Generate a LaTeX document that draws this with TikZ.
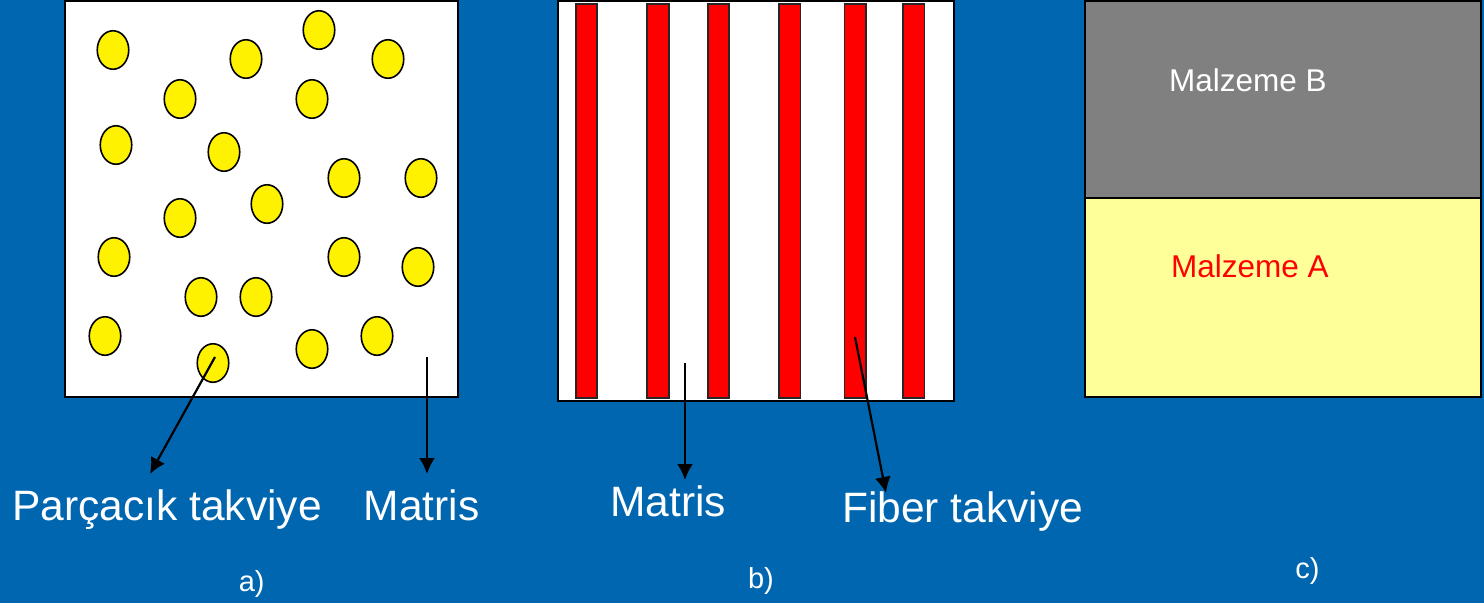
\documentclass[tikz,border=0pt]{standalone}
\usepackage{fontspec}
\setmainfont{Liberation Sans}
\usetikzlibrary{shapes.geometric,arrows.meta}
\definecolor{slideblue}{RGB}{0,102,176}
\definecolor{paleyellow}{RGB}{255,255,153}
\definecolor{matgray}{RGB}{128,128,128}
\begin{document}
\begin{tikzpicture}[x=1pt, y=-1pt, >={Latex[length=16pt,width=16pt]},
  panel/.style={draw=black, line width=2pt},
  particle/.style={ellipse, draw=black, fill=yellow, line width=1.6pt,
    minimum width=31.5pt, minimum height=38.5pt, inner sep=0pt},
  fiber/.style={rectangle, draw=black!85, fill=red, line width=1.6pt,
    minimum width=21.5pt, minimum height=394pt, inner sep=0pt},
  pointer/.style={->, line width=2.2pt},
  bigtext/.style={white, anchor=base, inner sep=0pt, font=\fontsize{42.5}{48}\selectfont},
  captext/.style={white, anchor=base, inner sep=0pt, font=\fontsize{29}{34}\selectfont},
  mattext/.style={anchor=base, inner sep=0pt, font=\fontsize{31.5}{36}\selectfont}]
\fill[slideblue] (0,0) rectangle (1484,603);
% a) parcacik takviyeli
\filldraw[panel, fill=white] (65,1) rectangle (458,397);
\foreach \x/\y [count=\i] in {113/50, 246/59, 319/30, 388/59, 180/99, 312/99,
    116/145, 224/152, 344/178, 421/178, 180/218, 267/204, 114/257, 344/257,
    418/267, 201/297, 256/297, 105/336, 377/336, 312/349, 213/363}
  \node[particle] (p\i) at (\x,\y) {};
\coordinate (partStart) at (215,357);
\coordinate (partTip) at (150,474);
\coordinate (matAStart) at (427,357);
\coordinate (matATip) at (427,474);
\draw[pointer] (partStart) -- (partTip);
\draw[pointer] (matAStart) -- (matATip);
\node[bigtext] (lblPart) at (167,520) {Parçacık takviye};
\node[bigtext] (lblMatA) at (421.5,520) {Matris};
\node[captext] (capA) at (251.7,591) {a)};
% b) fiber takviyeli
\filldraw[panel, fill=white] (558,1) rectangle (954,401);
\foreach \x [count=\i] in {586.5, 658, 718.5, 789.7, 855.2, 913.7}
  \node[fiber] (f\i) at (\x,201.2) {};
\coordinate (matBStart) at (685,363);
\coordinate (matBTip) at (685,480);
\coordinate (fibStart) at (855,337);
\coordinate (fibTip) at (886,493);
\draw[pointer] (matBStart) -- (matBTip);
\draw[pointer] (fibStart) -- (fibTip);
\node[bigtext] (lblMatB) at (668,516.7) {Matris};
\node[bigtext] (lblFib) at (962.5,522.7) {Fiber takviye};
\node[captext] (capB) at (761,588) {b)};
% c) tabakali
\filldraw[panel, fill=matgray] (1085,1) rectangle (1481,198);
\filldraw[panel, fill=paleyellow] (1085,198) rectangle (1481,397);
\node[mattext, white] (lblB) at (1248,91) {Malzeme B};
\node[mattext, red] (lblA) at (1250,277) {Malzeme A};
\node[captext] (capC) at (1307.5,578) {c)};
\end{tikzpicture}
\end{document}
